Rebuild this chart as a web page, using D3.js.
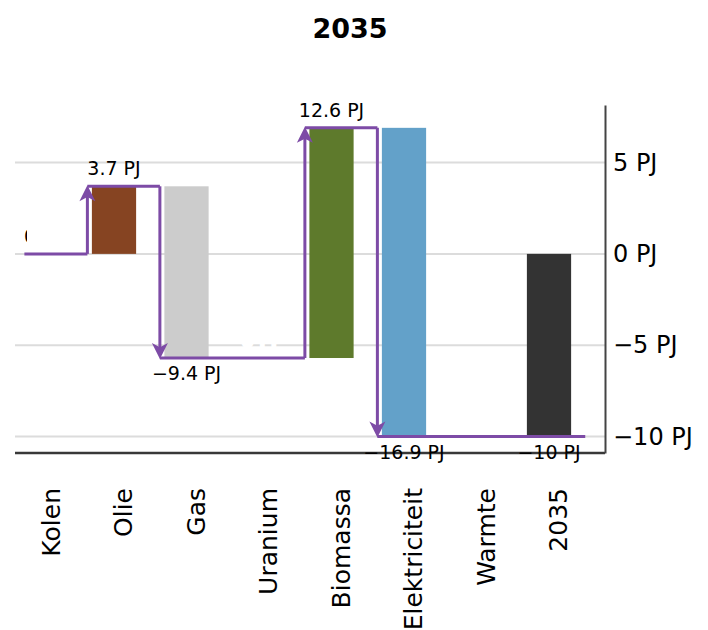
<!DOCTYPE html>
<html>
<head>
<meta charset="utf-8">
<script src="https://cdn.jsdelivr.net/npm/d3@7"></script>
<style>
  html, body { margin: 0; padding: 0; background: #fff; }
  svg { display: block; font-family: "DejaVu Sans", sans-serif; }
</style>
</head>
<body>
<svg id="chart" width="708" height="630"></svg>
<script>
// ---- data ----
const title = "2035";
const categories = ["Kolen", "Olie", "Gas", "Uranium", "Biomassa", "Elektriciteit", "Warmte", "2035"];
const deltas = [0, 3.7, -9.4, 0, 12.6, -16.9, 0];      // changes per carrier (PJ)
const totalValue = -10;                                 // final total (PJ)
const barColors = ["#333333", "#864422", "#cccccc", "#999999", "#5e7a2c", "#63a1c9", "#d9a441", "#333333"];
const yTicks = [5, 0, -5, -10];
const unit = "PJ";

// ---- layout ----
const W = 708, H = 630;
const plotLeft = 15, plotRight = 605, plotTop = 105, plotBottom = 453;
const lineColor = "#7d4ba6";

const svg = d3.select("#chart");

const fmt = v => (v < 0 ? "\u2212" + d3.format("~g")(Math.abs(v)) : d3.format("~g")(v)) + " " + unit;

const x = d3.scaleBand().domain(categories).range([5.25, 585.25]).paddingInner(0.39).paddingOuter(0.195);
const y = d3.scaleLinear().domain([-10.9, 8.15]).range([plotBottom, plotTop]);

// build waterfall steps
let run = 0;
const steps = deltas.map((d, i) => {
  const s = { cat: categories[i], start: run, end: run + d, delta: d, color: barColors[i] };
  run += d;
  return s;
});
steps.push({ cat: categories[7], start: 0, end: totalValue, delta: totalValue, color: barColors[7], total: true });

// title
svg.append("text")
  .attr("x", 350).attr("y", 38)
  .attr("text-anchor", "middle")
  .style("font-size", "27px").style("font-weight", "bold")
  .text(title);

// gridlines
svg.append("g").selectAll("line").data(yTicks).join("line")
  .attr("x1", plotLeft).attr("x2", plotRight)
  .attr("y1", d => y(d)).attr("y2", d => y(d))
  .attr("stroke", "#dcdcdc").attr("stroke-width", 2);

// bars
svg.append("g").selectAll("rect").data(steps.filter(s => s.delta !== 0)).join("rect")
  .attr("x", d => x(d.cat))
  .attr("width", x.bandwidth())
  .attr("y", d => y(Math.max(d.start, d.end)))
  .attr("height", d => Math.abs(y(d.start) - y(d.end)))
  .attr("fill", d => d.color);

// connector line with arrowheads
const lineG = svg.append("g").attr("fill", "none").attr("stroke", lineColor).attr("stroke-width", 3);
const headG = svg.append("g").attr("fill", lineColor);
let px = x(categories[0]) + 5, py = y(0);
steps.forEach((s, i) => {
  if (s.total || s.delta === 0) return;
  const vx = x(s.cat) - 4.5;
  const dir = s.end > s.start ? 1 : -1;   // 1 = up
  const tipY = y(s.end);
  lineG.append("line").attr("x1", px).attr("y1", py).attr("x2", vx).attr("y2", py);
  lineG.append("line").attr("x1", vx).attr("y1", y(s.start)).attr("x2", vx).attr("y2", tipY + dir * 8);
  // arrowhead: tip at (vx, tipY), pointing in direction of change
  const b = 15 * dir, h = 8;
  headG.append("path")
    .attr("d", `M${vx},${tipY - dir} L${vx - h},${tipY + b} L${vx},${tipY + b * 0.72} L${vx + h},${tipY + b} Z`);
  px = vx; py = tipY;
});
lineG.append("line").attr("x1", px).attr("y1", py).attr("x2", x(categories[7]) + x.step() * 0.805).attr("y2", py);

// x axis line
svg.append("line").attr("x1", plotLeft).attr("x2", plotRight).attr("y1", plotBottom).attr("y2", plotBottom)
  .attr("stroke", "#383838").attr("stroke-width", 2.5);

// value labels
const lbl = svg.append("g").style("font-size", "19px");
steps.forEach(s => {
  const cx = x(s.cat) + x.bandwidth() / 2;
  const up = s.delta >= 0 && !s.total;
  const yy = up ? y(Math.max(s.start, s.end)) - 11 : y(Math.min(s.start, s.end)) + 22;
  if (s.delta === 0) {
    // zero entries: label hidden behind white halo
    if (s.cat === categories[0]) {
      const clipW = 3;
      const t = lbl.append("text").attr("x", cx).attr("y", yy).attr("text-anchor", "middle").attr("fill", "#000").text(fmt(0));
      const len = t.node().getComputedTextLength();
      svg.append("clipPath").attr("id", "kclip").append("rect")
        .attr("x", cx - len / 2 - 2).attr("y", yy - 20).attr("width", clipW + 2).attr("height", 30);
      t.attr("clip-path", "url(#kclip)");
    } else {
      lbl.append("text").attr("x", cx).attr("y", yy).attr("text-anchor", "middle")
        .attr("fill", "#fff").attr("stroke", "#fff").attr("stroke-width", 3)
        .text(fmt(0));
    }
    return;
  }
  lbl.append("text").attr("x", cx).attr("y", yy).attr("text-anchor", "middle").attr("fill", "#000")
    .text(fmt(s.total ? s.end : s.delta));
});

// y axis on right
const yAxis = svg.append("g").attr("transform", `translate(${plotRight},0)`)
  .call(d3.axisRight(y).tickValues(yTicks).tickSize(0).tickPadding(8).tickFormat(fmt));
yAxis.select(".domain").attr("stroke", "#444").attr("stroke-width", 2);
yAxis.selectAll("text").style("font-size", "24px").style("font-family", "DejaVu Sans, sans-serif").attr("fill", "#000");

// x category labels
svg.append("g").selectAll("text").data(categories).join("text")
  .attr("transform", d => `translate(${x(d) + x.bandwidth() / 2 + 18},488) rotate(-90)`)
  .attr("text-anchor", "end")
  .style("font-size", "25px")
  .text(d => d);
</script>
</body>
</html>
